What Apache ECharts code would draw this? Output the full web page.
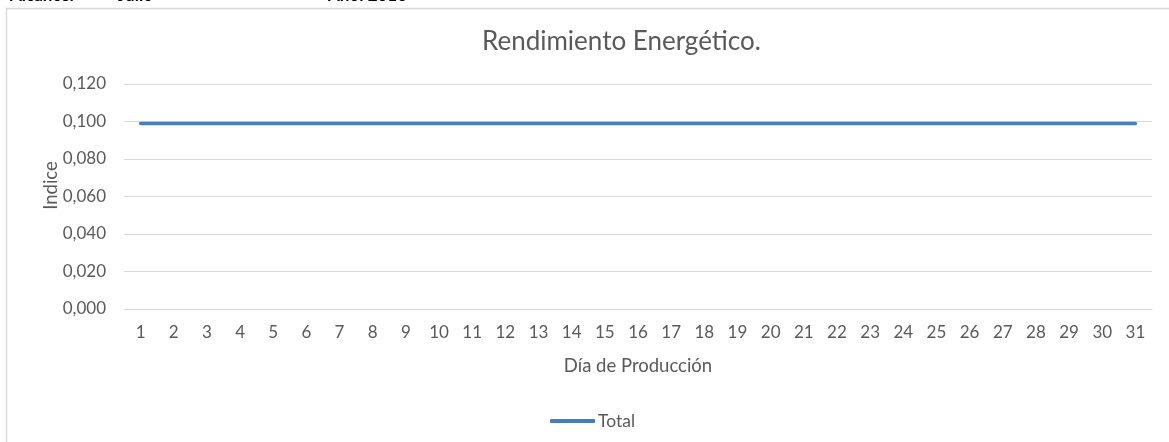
<!DOCTYPE html>
<html>
<head>
<meta charset="utf-8">
<script src="https://cdn.jsdelivr.net/npm/echarts@6/dist/echarts.min.js"></script>
<style>
  html, body { margin: 0; padding: 0; background: #ffffff; }
  #chart { width: 1169px; height: 442px; }
</style>
</head>
<body>
<div id="chart"></div>
<script>
// Days of production for the month
const dias = ['1','2','3','4','5','6','7','8','9','10','11','12','13','14','15','16',
              '17','18','19','20','21','22','23','24','25','26','27','28','29','30','31'];

// Daily energy-efficiency index (Total)
const total = [0.099,0.099,0.099,0.099,0.099,0.099,0.099,0.099,0.099,0.099,0.099,
               0.099,0.099,0.099,0.099,0.099,0.099,0.099,0.099,0.099,0.099,0.099,
               0.099,0.099,0.099,0.099,0.099,0.099,0.099,0.099,0.099];

const titulo = 'Rendimiento Energético.';
const nombreEjeX = 'Día de Producción';
const nombreEjeY = 'Indice';
const encabezado = ['Alcance:', 'Julio', 'Año: 2016'];

const FONT = 'Lato, "Open Sans", sans-serif';
const GRIS = '#595959';

const chart = echarts.init(document.getElementById('chart'), null, { renderer: 'canvas' });

chart.setOption({
  backgroundColor: '#ffffff',
  animation: false,
  textStyle: { fontFamily: FONT },
  graphic: [
    // sheet header row, mostly above the visible area
    { type: 'text', left: 10, top: -12.5, style: { text: encabezado[0], font: 'bold 17px ' + FONT, fill: '#000' } },
    { type: 'text', left: 118, top: -12.5, style: { text: encabezado[1], font: 'bold 17px ' + FONT, fill: '#000' } },
    { type: 'text', left: 328, top: -12.5, style: { text: encabezado[2], font: 'bold 17px ' + FONT, fill: '#000' } },
    // chart area frame
    { type: 'rect', shape: { x: 6.5, y: 8.5, width: 1300, height: 600 },
      style: { fill: 'none', stroke: '#d9d9d9', lineWidth: 1.5 }, silent: true }
  ],
  title: {
    text: titulo,
    left: 477,
    top: 24,
    textStyle: { fontFamily: FONT, fontSize: 26, fontWeight: 'normal', color: GRIS }
  },
  legend: {
    data: [{ name: 'Total', icon: 'roundRect' }],
    left: 545,
    top: 407,
    itemWidth: 45,
    itemHeight: 4,
    textStyle: { fontFamily: FONT, fontSize: 17.5, color: GRIS, padding: [0, 0, 0, -2] }
  },
  grid: { left: 124, right: 17, top: 84, bottom: 133 },
  xAxis: {
    type: 'category',
    data: dias,
    boundaryGap: true,
    name: nombreEjeX,
    nameLocation: 'middle',
    nameGap: 48,
    nameTextStyle: { fontFamily: FONT, fontSize: 18.5, color: GRIS },
    axisLine: { show: true, lineStyle: { color: '#d9d9d9' } },
    axisTick: { show: false },
    axisLabel: { fontFamily: FONT, fontSize: 17, color: GRIS, margin: 15, interval: 0 }
  },
  yAxis: {
    type: 'value',
    min: 0,
    max: 0.12,
    interval: 0.02,
    name: nombreEjeY,
    nameLocation: 'middle',
    nameGap: 63,
    nameMoveOverlap: false,
    nameTextStyle: { fontFamily: FONT, fontSize: 18.5, color: GRIS, padding: [0, 0, 0, 22] },
    axisLine: { show: false },
    axisTick: { show: false },
    splitLine: { lineStyle: { color: '#d9d9d9' } },
    axisLabel: {
      fontFamily: FONT, fontSize: 17, color: GRIS, margin: 18,
      formatter: v => v.toFixed(3).replace('.', ',')
    }
  },
  series: [{
    name: 'Total',
    type: 'line',
    data: total,
    showSymbol: false,
    symbol: 'none',
    itemStyle: { color: '#4a7ebb' },
    lineStyle: { color: '#4a7ebb', width: 3.5, cap: 'round' }
  }]
});
</script>
</body>
</html>
